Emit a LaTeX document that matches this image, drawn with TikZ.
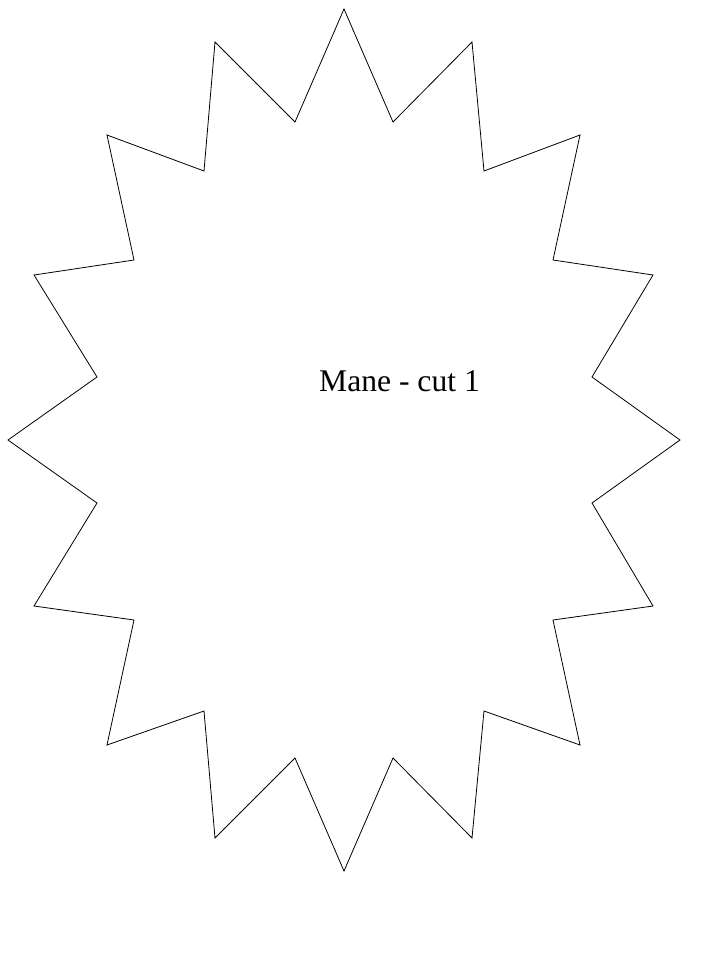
\documentclass[tikz,border=0pt]{standalone}
\usepackage{fontspec}
\setmainfont{Liberation Serif}
\begin{document}
\begin{tikzpicture}[x=1pt,y=-1pt,
  outline/.style={draw=black,line width=0.8pt,line join=miter},
  label/.style={font=\fontsize{31.6}{36}\selectfont,inner sep=0pt,anchor=base}]
\useasboundingbox[fill=white] (0,0) rectangle (719,959);
\draw[outline] (344,9) -- (393,122) -- (472,42) -- (484,171) -- (580,135) -- (553,260) -- (653,275) -- (592,377) -- (680,440) -- (592,503) -- (653,606) -- (553,620) -- (580,745) -- (484,711) -- (472,838) -- (393,758) -- (344,871) -- (295,758) -- (215,838) -- (204,711) -- (107,745) -- (134,620) -- (34,606) -- (97,503) -- (8,440) -- (97,377) -- (34,275) -- (134,260) -- (107,135) -- (204,171) -- (215,42) -- (295,122) -- cycle;
\node[label] (t) at (399.5,391) {Mane - cut 1};
\end{tikzpicture}
\end{document}
